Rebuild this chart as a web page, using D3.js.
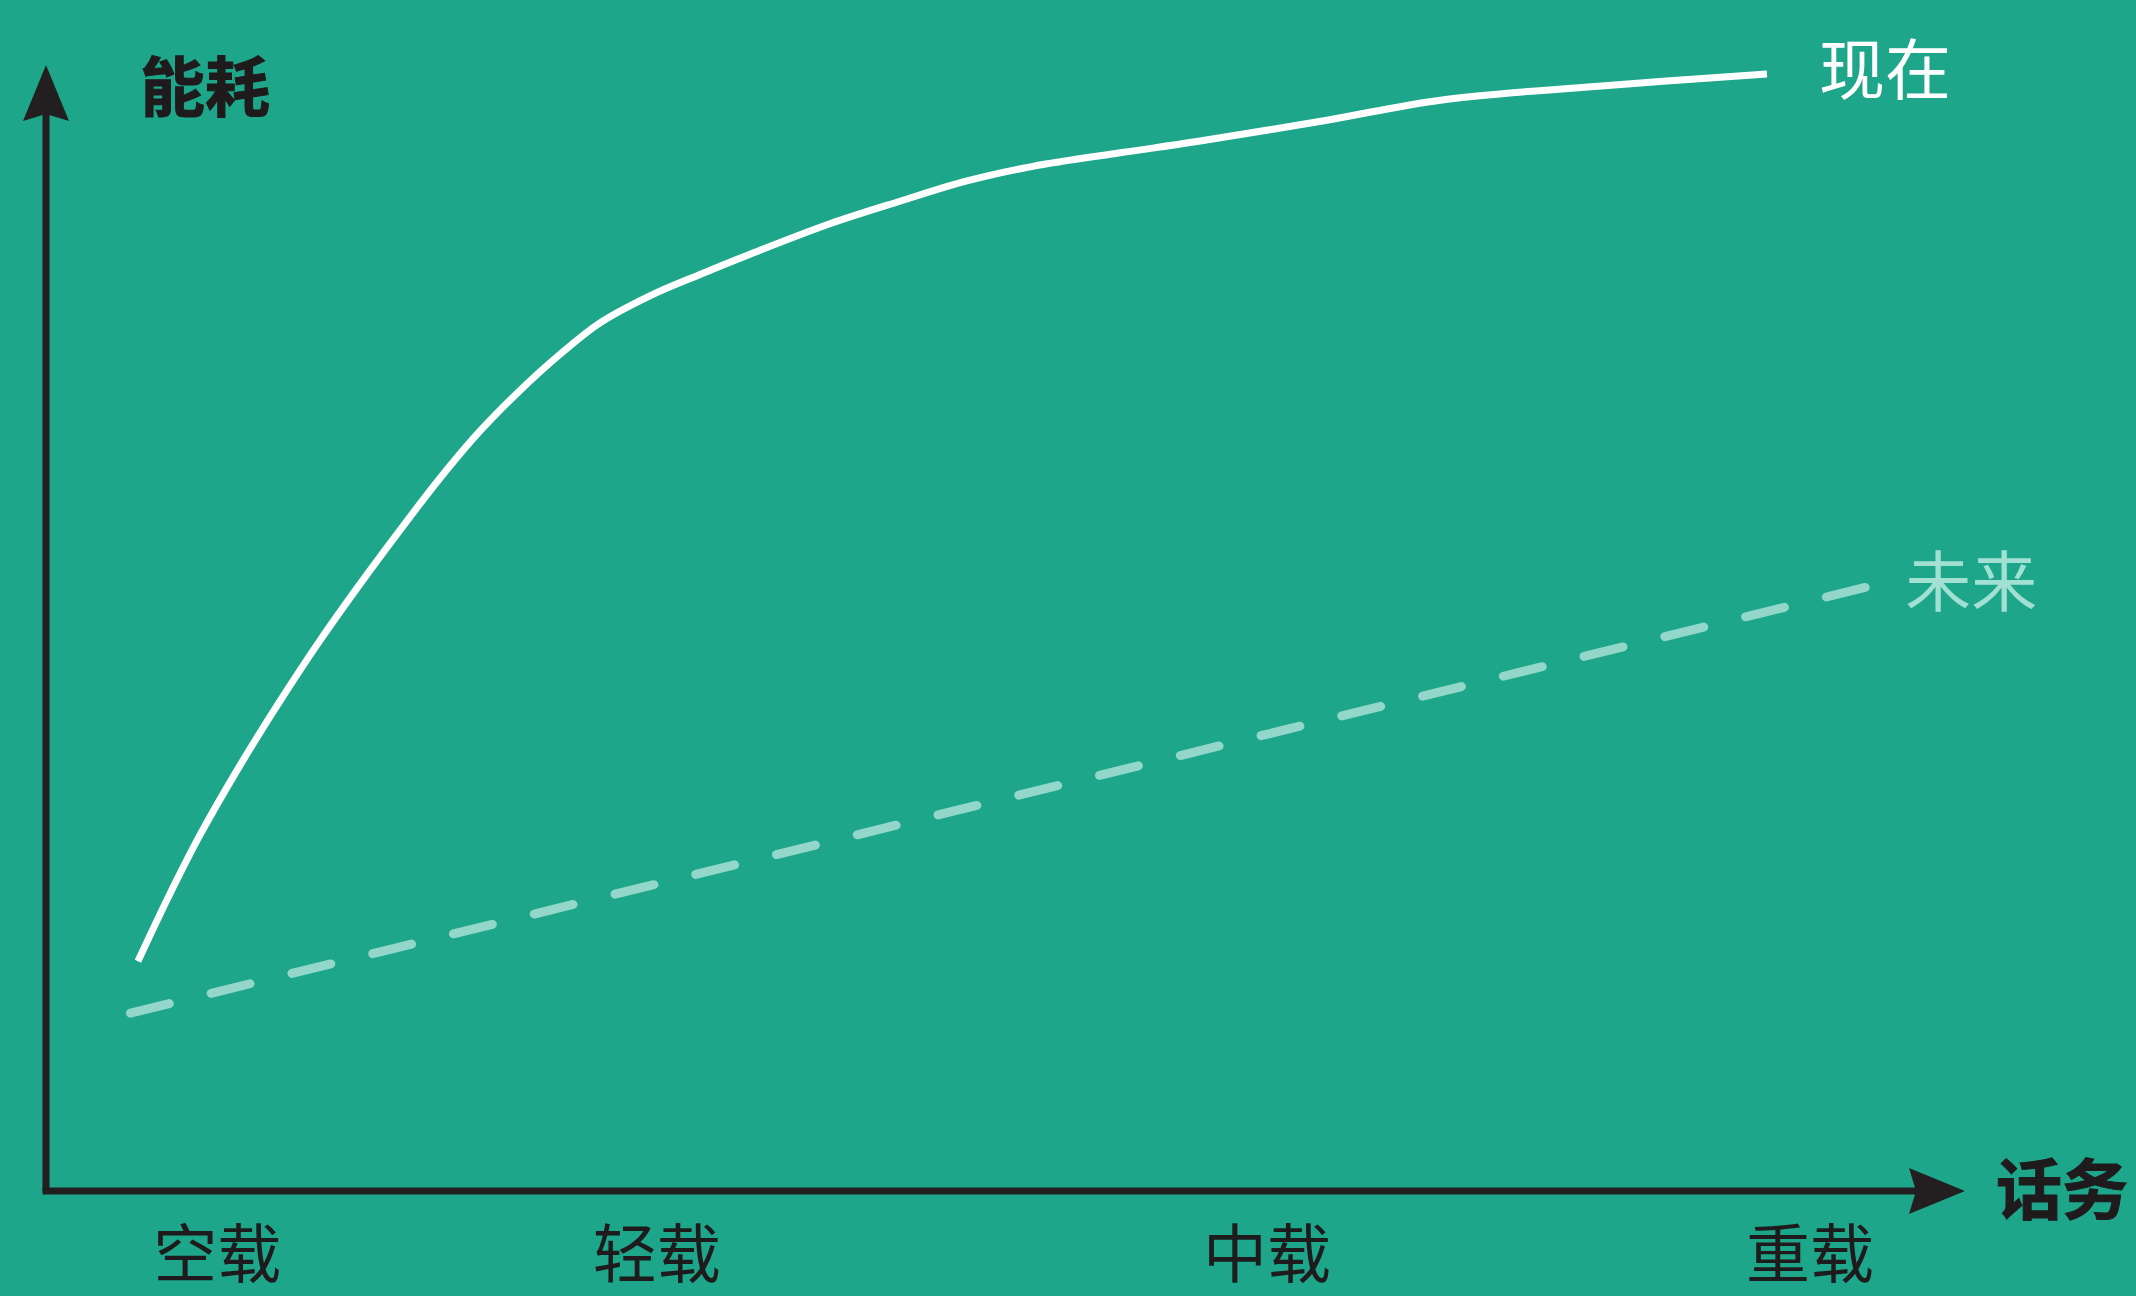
<!DOCTYPE html>
<html lang="zh-CN">
<head>
<meta charset="utf-8">
<title>能耗与话务</title>
<script src="https://cdn.jsdelivr.net/npm/d3@7"></script>
<style>
  html, body { margin: 0; padding: 0; background: #1da68a; }
  svg { display: block; }
  text { font-family: "Noto Sans CJK SC", "Noto Sans", sans-serif; }
</style>
</head>
<body>
<svg id="chart" width="2136" height="1296"></svg>
<script>
// Traffic load (0–100) against energy use (0–100)
const loadNow   = [4.79, 6.46, 8.02, 10.11, 12.19, 14.28, 16.36, 18.45, 20.53, 22.62, 24.70, 26.78, 28.87,
                   31.47, 34.08, 36.69, 40.85, 44.50, 47.99, 51.43, 55.97, 59.98, 66.75, 72.75, 80.72, 89.68];
const energyNow = [20.4, 26.4, 31.6, 37.8, 43.5, 48.9, 53.9, 58.7, 63.3, 67.5, 71.1, 74.3, 77.1,
                   79.5, 81.4, 83.2, 85.9, 87.9, 89.7, 91.0, 92.2, 93.2, 95.1, 96.9, 98.1, 99.2];
const loadFuture   = [4.4, 94.8];
const energyFuture = [15.8, 53.6];

const loadTicks  = [8.9, 31.8, 63.6, 91.9];
const loadLabels = ["空载", "轻载", "中载", "重载"];

const seriesNames = ["现在", "未来"];
const axisTitleY = "能耗";
const axisTitleX = "话务";

const svg = d3.select("#chart");
const W = 2136, H = 1296;

svg.append("rect").attr("width", W).attr("height", H).attr("fill", "#1da68a");

// Frame: origin at the axes' corner, domain ends at the arrow tips
const x = d3.scaleLinear().domain([0, 100]).range([46, 1965]);
const y = d3.scaleLinear().domain([0, 100]).range([1191, 65]);

const axisColor = "#231f20";
const arrowLen = 56, arrowHalf = 23, notch = 7;

// Axis lines
svg.append("line")
  .attr("x1", x(0) - 3.5).attr("y1", y(0))
  .attr("x2", x(100) - arrowLen + notch + 2).attr("y2", y(0))
  .attr("stroke", axisColor).attr("stroke-width", 7);
svg.append("line")
  .attr("x1", x(0)).attr("y1", y(0))
  .attr("x2", x(0)).attr("y2", y(100) + arrowLen - notch - 2)
  .attr("stroke", axisColor).attr("stroke-width", 7);

// Arrow heads
const tipX = [x(100), y(0)], tipY = [x(0), y(100)];
svg.append("path")
  .attr("d", `M${tipX[0]},${tipX[1]} L${tipX[0] - arrowLen},${tipX[1] - arrowHalf} L${tipX[0] - arrowLen + notch},${tipX[1]} L${tipX[0] - arrowLen},${tipX[1] + arrowHalf} Z`)
  .attr("fill", axisColor);
svg.append("path")
  .attr("d", `M${tipY[0]},${tipY[1]} L${tipY[0] - arrowHalf},${tipY[1] + arrowLen} L${tipY[0]},${tipY[1] + arrowLen - notch} L${tipY[0] + arrowHalf},${tipY[1] + arrowLen} Z`)
  .attr("fill", axisColor);

// Category labels under the traffic axis
const xAxis = d3.axisBottom(x)
  .tickValues(loadTicks)
  .tickFormat((d, i) => loadLabels[i])
  .tickSize(0)
  .tickPadding(0);
const gx = svg.append("g").attr("transform", `translate(0,${y(0)})`).call(xAxis);
gx.select(".domain").remove();
gx.selectAll("text")
  .attr("y", 86)
  .attr("dy", null)
  .attr("fill", "#1f1a1c")
  .style("font-size", "64px")
  .style("font-family", "'Noto Sans CJK SC', sans-serif");

// Axis titles
svg.append("text")
  .attr("x", 205).attr("y", 111)
  .attr("text-anchor", "middle")
  .attr("fill", "#1f1a1c")
  .attr("stroke", "#1f1a1c").attr("stroke-width", 1)
  .style("font-size", "65px").style("font-weight", 700)
  .text(axisTitleY);
svg.append("text")
  .attr("x", 2062).attr("y", 1214)
  .attr("text-anchor", "middle")
  .attr("fill", "#1f1a1c")
  .attr("stroke", "#1f1a1c").attr("stroke-width", 1)
  .style("font-size", "66px").style("font-weight", 700)
  .text(axisTitleX);

// Series lines
const nowData = loadNow.map((v, i) => [v, energyNow[i]]);
const futureData = loadFuture.map((v, i) => [v, energyFuture[i]]);

const line = d3.line()
  .x(d => x(d[0]))
  .y(d => y(d[1]))
  .curve(d3.curveCatmullRom.alpha(0.5));

const futurePath = svg.append("path")
  .datum(futureData)
  .attr("d", line)
  .attr("fill", "none")
  .attr("stroke", "#92d7ca")
  .attr("stroke-width", 9)
  .attr("stroke-linecap", "round");

// Fit the dash rhythm so the line begins and ends on a dash
const dashLen = 40, dashCount = 22;
const futureLen = futurePath.node().getTotalLength();
const gapLen = (futureLen - dashLen * dashCount) / (dashCount - 1);
futurePath.attr("stroke-dasharray", `${dashLen} ${gapLen}`);

svg.append("path")
  .datum(nowData)
  .attr("d", line)
  .attr("fill", "none")
  .attr("stroke", "#ffffff")
  .attr("stroke-width", 7)
  .attr("stroke-linecap", "butt");

// Series labels beside the line ends
const lastNow = nowData[nowData.length - 1];
svg.append("text")
  .attr("x", x(lastNow[0]) + 52)
  .attr("y", y(lastNow[1]) + 20)
  .attr("fill", "#ffffff")
  .style("font-size", "66px")
  .text(seriesNames[0]);

const lastFuture = futureData[futureData.length - 1];
svg.append("text")
  .attr("x", x(lastFuture[0]) + 40)
  .attr("y", y(lastFuture[1]) + 19)
  .attr("fill", "#a3e0d4")
  .style("font-size", "66px")
  .text(seriesNames[1]);
</script>
</body>
</html>
